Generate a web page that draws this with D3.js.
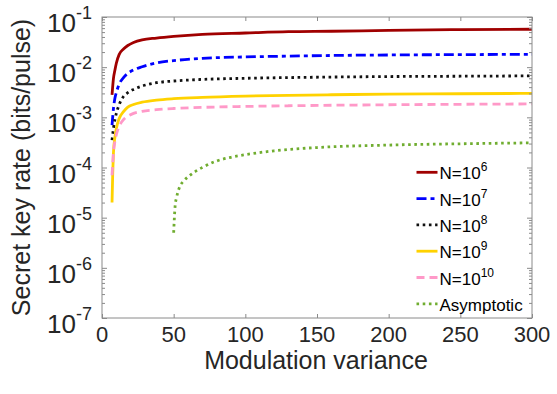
<!DOCTYPE html>
<html><head><meta charset="utf-8">
<script src="https://cdn.jsdelivr.net/npm/d3@7/dist/d3.min.js"></script>
<style>
html,body{margin:0;padding:0;background:#fff;}
svg{display:block;font-family:"Liberation Sans",Arial,Helvetica,sans-serif;}
</style></head>
<body>
<svg id="chart" width="557" height="394"></svg>
<script>
// ---- data ----
const xN = [7, 8, 9, 10, 12, 15, 18, 22, 28, 38, 50, 70, 100, 130, 160, 200, 250, 300];
const yN6  = [2.8e-3, 6e-3, 8.7e-3, 0.012, 0.018, 0.023, 0.027, 0.031, 0.035, 0.038, 0.041, 0.045, 0.048, 0.051, 0.052, 0.054, 0.056, 0.057];
const yN7  = [7e-4, 1.5e-3, 2.4e-3, 3.1e-3, 4.6e-3, 6.2e-3, 7.5e-3, 8.8e-3, 0.0102, 0.0122, 0.0135, 0.0150, 0.0160, 0.0166, 0.0171, 0.0175, 0.0178, 0.018];
const yN8  = [3.5e-4, 6e-4, 9e-4, 1.2e-3, 1.8e-3, 2.6e-3, 3.1e-3, 3.6e-3, 4.2e-3, 4.9e-3, 5.3e-3, 5.7e-3, 6.0e-3, 6.2e-3, 6.35e-3, 6.5e-3, 6.6e-3, 6.7e-3];
const xN9  = [7, 7.5, 8, 9, 10, 12, 15, 18, 22, 28, 38, 50, 70, 100, 130, 160, 200, 250, 300];
const yN9  = [2e-5, 8e-5, 2e-4, 4e-4, 6e-4, 9.5e-4, 1.3e-3, 1.6e-3, 1.8e-3, 2.0e-3, 2.2e-3, 2.35e-3, 2.5e-3, 2.65e-3, 2.75e-3, 2.82e-3, 2.9e-3, 2.95e-3, 3.0e-3];
const yN10 = [7e-5, 2e-4, 3.3e-4, 4.5e-4, 6.6e-4, 9e-4, 1.05e-3, 1.2e-3, 1.32e-3, 1.42e-3, 1.5e-3, 1.58e-3, 1.65e-3, 1.7e-3, 1.74e-3, 1.78e-3, 1.82e-3, 1.85e-3];
const xAs  = [50, 50.5, 51, 52, 54, 57, 60, 65, 70, 80, 90, 100, 120, 150, 200, 250, 300];
const yAs  = [5e-6, 1e-5, 1.7e-5, 2.5e-5, 4e-5, 5.4e-5, 6.5e-5, 8.3e-5, 1.0e-4, 1.35e-4, 1.6e-4, 1.8e-4, 2.15e-4, 2.5e-4, 2.8e-4, 2.97e-4, 3.1e-4];
const seriesNames = ["N=10^6", "N=10^7", "N=10^8", "N=10^9", "N=10^10", "Asymptotic"];
const xTicks = [0, 50, 100, 150, 200, 250, 300];
const yTickExps = [-1, -2, -3, -4, -5, -6, -7];
const xLabel = "Modulation variance";
const yLabel = "Secret key rate (bits/pulse)";

// ---- styles ----
const styles = [
  {color:"#A00000", dash:null, w:2.8},
  {color:"#0000FF", dash:"10,4,4,4", w:2.8},
  {color:"#111111", dash:"2.6,3.6", w:2.8},
  {color:"#FFD200", dash:null, w:2.8},
  {color:"#FF99C8", dash:"8,5", w:2.8},
  {color:"#70AD30", dash:"2.6,3.6", w:2.8}
];
const seriesX = [xN, xN, xN, xN9, xN, xAs];
const seriesY = [yN6, yN7, yN8, yN9, yN10, yAs];

const svg = d3.select("#chart");
const L = 102, R = 532, T = 17, B = 318;
const x = d3.scaleLinear().domain([0, 300]).range([L, R]);
const y = d3.scaleLog().domain([1e-7, 1e-1]).range([B, T]);
const axisColor = "#8a8a8a", textColor = "#262626";

// lines
const line = d3.line().x(d => x(d[0])).y(d => y(d[1])).curve(d3.curveMonotoneX);
svg.append("clipPath").attr("id","clip").append("rect")
  .attr("x", L).attr("y", T).attr("width", R-L).attr("height", B-T);
const plot = svg.append("g").attr("clip-path","url(#clip)");
seriesY.forEach((ys, i) => {
  const pts = seriesX[i].map((xv, j) => [xv, ys[j]]);
  plot.append("path").datum(pts).attr("d", line)
    .attr("fill","none").attr("stroke", styles[i].color)
    .attr("stroke-width", styles[i].w)
    .attr("stroke-dasharray", styles[i].dash);
});

// axes via d3 axis generators (ticks inward)
const xb = svg.append("g").attr("transform",`translate(0,${B})`)
  .call(d3.axisTop(x).tickValues(xTicks).tickSize(4).tickFormat(""));
const xt = svg.append("g").attr("transform",`translate(0,${T})`)
  .call(d3.axisBottom(x).tickValues(xTicks).tickSize(4).tickFormat(""));
const minorVals = [];
for (let e = -7; e < -1; e++) for (let m = 2; m <= 9; m++) minorVals.push(m * Math.pow(10, e));
const majorVals = yTickExps.map(e => Math.pow(10, e));
const yl = svg.append("g").attr("transform",`translate(${L},0)`)
  .call(d3.axisRight(y).tickValues(majorVals).tickSize(5).tickFormat(""));
const ylm = svg.append("g").attr("transform",`translate(${L},0)`)
  .call(d3.axisRight(y).tickValues(minorVals).tickSize(3).tickFormat(""));
const yr = svg.append("g").attr("transform",`translate(${R},0)`)
  .call(d3.axisLeft(y).tickValues(majorVals).tickSize(5).tickFormat(""));
const yrm = svg.append("g").attr("transform",`translate(${R},0)`)
  .call(d3.axisLeft(y).tickValues(minorVals).tickSize(3).tickFormat(""));
[xb, xt, yl, ylm, yr, yrm].forEach(g => {
  g.selectAll(".domain").remove();
  g.selectAll("line").attr("stroke", axisColor).attr("stroke-width", 1);
});
svg.append("rect").attr("x", L).attr("y", T).attr("width", R-L).attr("height", B-T)
  .attr("fill","none").attr("stroke", axisColor).attr("stroke-width", 1);

// x tick labels
svg.append("g").selectAll("text").data(xTicks).join("text")
  .attr("x", d => x(d)).attr("y", 342)
  .attr("text-anchor","middle").attr("font-size", 22).attr("fill", textColor)
  .text(d => d);

// y tick labels
const ytl = svg.append("g").selectAll("text").data(yTickExps).join("text")
  .attr("x", 92).attr("y", d => y(Math.pow(10, d)) + 15)
  .attr("text-anchor","end").attr("fill", textColor);
ytl.append("tspan").attr("font-size", 26).text("10");
ytl.append("tspan").attr("font-size", 18).attr("dy", -13).text(d => d);

// axis labels
svg.append("text").attr("x", (L+R)/2 - 1).attr("y", 369)
  .attr("text-anchor","middle").attr("font-size", 25).attr("fill", textColor).text(xLabel);
svg.append("text").attr("transform", `translate(30,${(T+B)/2}) rotate(-90)`)
  .attr("text-anchor","middle").attr("font-size", 25).attr("fill", textColor).text(yLabel);

// legend
const legY0 = 172.3, legDy = 26.3;
const leg = svg.append("g");
seriesNames.forEach((name, i) => {
  const cy = legY0 + i * legDy;
  leg.append("line").attr("x1", 416.5).attr("x2", 437.5).attr("y1", cy).attr("y2", cy)
    .attr("stroke", styles[i].color).attr("stroke-width", styles[i].w)
    .attr("stroke-dasharray", styles[i].dash);
  const t = leg.append("text").attr("x", 439.5).attr("y", cy + 7)
    .attr("font-size", 17).attr("fill", "#000");
  const parts = name.split("^");
  t.append("tspan").text(parts[0]);
  if (parts[1]) t.append("tspan").attr("font-size", 12).attr("dy", -8).text(parts[1]);
});
</script>
</body></html>
